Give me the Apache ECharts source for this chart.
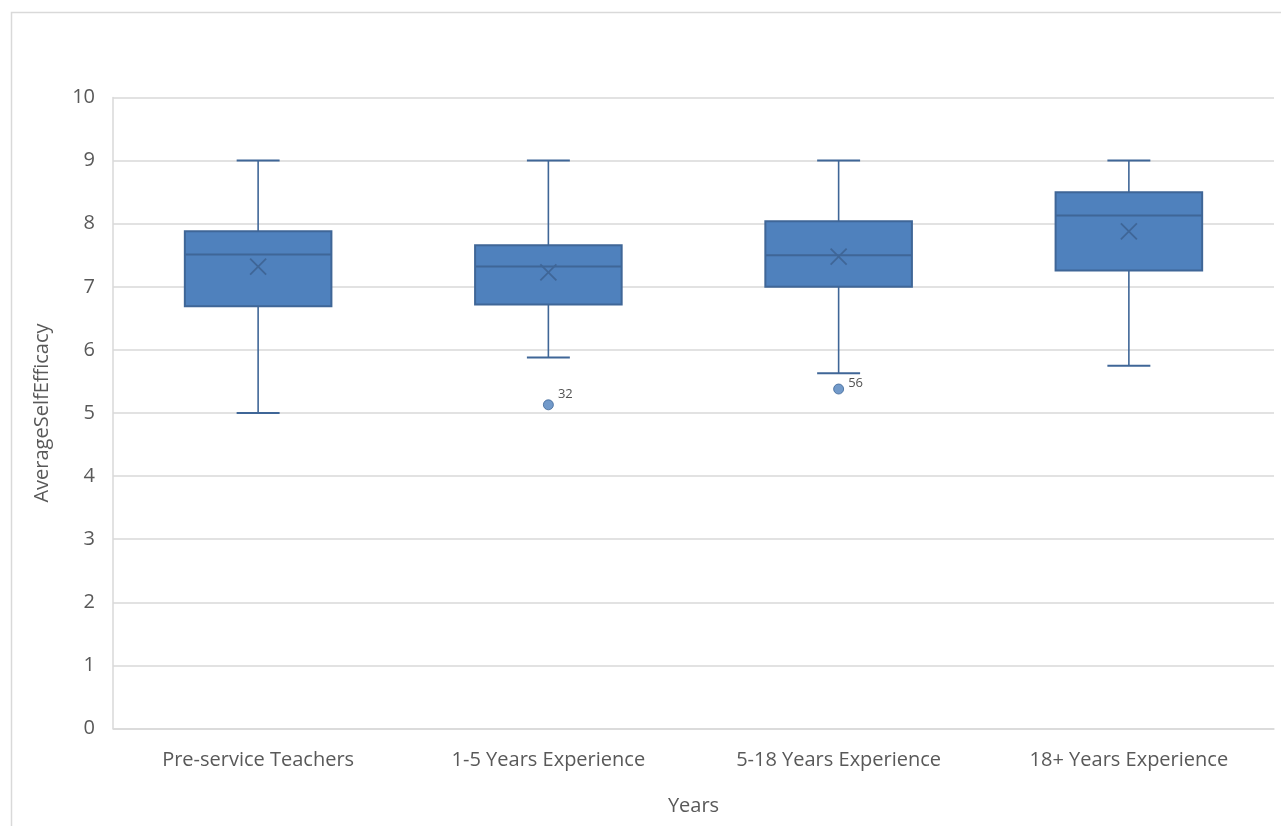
<!DOCTYPE html>
<html>
<head>
<meta charset="utf-8">
<script src="https://cdn.jsdelivr.net/npm/echarts@6/dist/echarts.min.js"></script>
<style>
  html, body { margin: 0; padding: 0; background: #ffffff; }
  #chart { width: 1281px; height: 826px; }
</style>
</head>
<body>
<div id="chart"></div>
<script>
// Average self-efficacy by years of teaching experience
const categories = ['Pre-service Teachers', '1-5 Years Experience', '5-18 Years Experience', '18+ Years Experience'];
const whiskerLow  = [5.00, 5.88, 5.63, 5.75];
const quartile1   = [6.69, 6.72, 7.00, 7.26];
const median      = [7.51, 7.32, 7.50, 8.13];
const quartile3   = [7.88, 7.66, 8.04, 8.50];
const whiskerHigh = [9.00, 9.00, 9.00, 9.00];
const mean        = [7.32, 7.23, 7.48, 7.88];
// outliers: category index, value, case label
const outlierCat   = [1, 2];
const outlierValue = [5.13, 5.38];
const outlierLabel = ['32', '56'];
const yTicks = [0, 1, 2, 3, 4, 5, 6, 7, 8, 9, 10];

const FILL = '#4f81bd';
const EDGE = '#3f6697';
const TEXT = '#595959';
const GRID = '#d9d9d9';
const FONT = '"Open Sans", sans-serif';

const boxData = categories.map((c, i) => [i, whiskerLow[i], quartile1[i], median[i], quartile3[i], whiskerHigh[i], mean[i]]);
const labelOffsets = [[0, -11], [0, -6]];
const outlierData = outlierCat.map((c, i) => ({
  value: [c, outlierValue[i]],
  label: { formatter: outlierLabel[i], offset: labelOffsets[i] }
}));

function renderBox(params, api) {
  const idx = api.value(0);
  const band = api.size([1, 0])[0];
  const boxW = band * 0.505;
  const capW = band * 0.148;
  const pLow = api.coord([idx, api.value(1)]);
  const pQ1 = api.coord([idx, api.value(2)]);
  const pMed = api.coord([idx, api.value(3)]);
  const pQ3 = api.coord([idx, api.value(4)]);
  const pHigh = api.coord([idx, api.value(5)]);
  const pMean = api.coord([idx, api.value(6)]);
  const cx = pMed[0];
  const lineStyle = { stroke: EDGE, lineWidth: 1.6, fill: null };
  const m = 8;
  return {
    type: 'group',
    children: [
      { type: 'line', shape: { x1: cx, y1: pHigh[1], x2: cx, y2: pQ3[1] }, style: lineStyle },
      { type: 'line', shape: { x1: cx, y1: pQ1[1], x2: cx, y2: pLow[1] }, style: lineStyle },
      { type: 'line', shape: { x1: cx - capW / 2, y1: pHigh[1], x2: cx + capW / 2, y2: pHigh[1] }, style: Object.assign({}, lineStyle, { lineWidth: 2 }) },
      { type: 'line', shape: { x1: cx - capW / 2, y1: pLow[1], x2: cx + capW / 2, y2: pLow[1] }, style: Object.assign({}, lineStyle, { lineWidth: 2 }) },
      { type: 'rect', shape: { x: cx - boxW / 2, y: pQ3[1], width: boxW, height: pQ1[1] - pQ3[1] },
        style: { fill: FILL, stroke: EDGE, lineWidth: 2 } },
      { type: 'line', shape: { x1: cx - boxW / 2, y1: pMed[1], x2: cx + boxW / 2, y2: pMed[1] }, style: Object.assign({}, lineStyle, { lineWidth: 2 }) },
      { type: 'line', shape: { x1: cx - m, y1: pMean[1] - m, x2: cx + m, y2: pMean[1] + m }, style: Object.assign({}, lineStyle, { lineWidth: 1.8 }) },
      { type: 'line', shape: { x1: cx - m, y1: pMean[1] + m, x2: cx + m, y2: pMean[1] - m }, style: Object.assign({}, lineStyle, { lineWidth: 1.8 }) }
    ]
  };
}

const chart = echarts.init(document.getElementById('chart'), null, { renderer: 'canvas' });
chart.setOption({
  backgroundColor: '#ffffff',
  animation: false,
  graphic: [{
    type: 'rect', silent: true,
    shape: { x: 11.5, y: 12.5, width: 1400, height: 900 },
    style: { fill: null, stroke: GRID, lineWidth: 1.5 }
  }],
  grid: { left: 113, right: 7, top: 97.5, bottom: 97.5, containLabel: false },
  xAxis: {
    type: 'category',
    data: categories,
    name: 'Years',
    nameLocation: 'middle',
    nameGap: 68,
    nameTextStyle: { color: TEXT, fontSize: 20, fontFamily: FONT },
    axisLine: { show: true, lineStyle: { color: GRID, width: 1.5 } },
    axisTick: { show: false },
    axisLabel: { color: TEXT, fontSize: 20, fontFamily: FONT, margin: 22, interval: 0 },
    splitLine: { show: false }
  },
  yAxis: {
    type: 'value',
    min: yTicks[0],
    max: yTicks[yTicks.length - 1],
    interval: 1,
    name: 'AverageSelfEfficacy',
    nameLocation: 'middle',
    nameGap: 61,
    nameRotate: 90,
    nameTextStyle: { color: TEXT, fontSize: 20, fontFamily: FONT },
    axisLine: { show: true, lineStyle: { color: GRID, width: 1.5 } },
    axisTick: { show: false },
    axisLabel: { color: TEXT, fontSize: 20, fontFamily: FONT, margin: 18 },
    splitLine: { show: true, lineStyle: { color: GRID, width: 1.5 } }
  },
  series: [
    {
      type: 'custom',
      renderItem: renderBox,
      encode: { x: 0, y: [1, 2, 3, 4, 5, 6] },
      data: boxData,
      z: 3
    },
    {
      type: 'scatter',
      data: outlierData,
      symbol: 'circle',
      symbolSize: 10,
      itemStyle: { color: FILL, borderColor: EDGE, borderWidth: 1 },
      label: {
        show: true,
        position: 'right',
        distance: 4,
        color: '#262626',
        fontSize: 13,
        fontFamily: FONT
      },
      z: 4
    }
  ]
});
</script>
</body>
</html>
